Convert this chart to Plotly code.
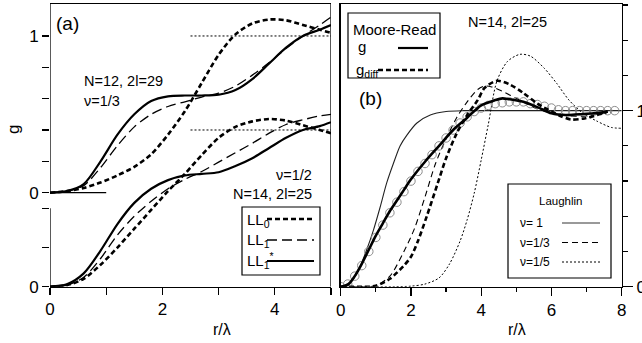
import plotly.graph_objects as go

# ---------------- data: panel (a) ----------------
# nu = 1/3, N=12, 2l=29 (upper set)
r_a = [0, 0.3, 0.6, 0.9, 1.2, 1.5, 1.8, 2.1, 2.4, 2.7, 3.0, 3.3, 3.6, 3.9, 4.2, 4.5, 4.8, 5.0]
g13_LL0 = [0, 0.01, 0.03, 0.065, 0.11, 0.165, 0.245, 0.37, 0.52, 0.70, 0.88, 1.01, 1.08, 1.105, 1.10, 1.07, 1.04, 1.02]
g13_LL1 = [0, 0.01, 0.045, 0.16, 0.30, 0.42, 0.50, 0.55, 0.58, 0.61, 0.635, 0.68, 0.75, 0.83, 0.92, 1.0, 1.07, 1.12]
g13_LL1s = [0, 0.01, 0.055, 0.20, 0.37, 0.50, 0.585, 0.615, 0.62, 0.62, 0.625, 0.655, 0.725, 0.825, 0.925, 1.0, 1.04, 1.07]
# nu = 1/2, N=14, 2l=25 (lower set, drawn shifted down by 0.6)
g12_LL0 = [0, 0.01, 0.05, 0.14, 0.25, 0.37, 0.49, 0.61, 0.72, 0.84, 0.95, 1.02, 1.055, 1.07, 1.06, 1.03, 1.0, 0.98]
g12_LL1 = [0, 0.01, 0.06, 0.18, 0.33, 0.45, 0.545, 0.625, 0.685, 0.735, 0.795, 0.855, 0.915, 0.98, 1.035, 1.065, 1.09, 1.10]
g12_LL1s = [0, 0.015, 0.085, 0.23, 0.40, 0.535, 0.625, 0.68, 0.71, 0.72, 0.73, 0.77, 0.82, 0.885, 0.95, 1.0, 1.025, 1.05]
offset_half = -0.6
ref_r = [2.5, 5.0]

# ---------------- data: panel (b) ----------------
r_mr = [0, 0.2, 0.4, 0.6, 0.8, 1.0, 1.2, 1.4, 1.6, 1.8, 2.0, 2.4, 2.8, 3.2, 3.6, 4.0, 4.4, 4.6, 4.8, 5.2, 5.6, 6.0, 6.4, 6.8, 7.2, 7.6]
g_mr = [0, 0.01, 0.06, 0.13, 0.21, 0.29, 0.36, 0.43, 0.49, 0.55, 0.61, 0.71, 0.80, 0.89, 0.96, 1.03, 1.06, 1.07, 1.065, 1.05, 1.02, 0.985, 0.975, 0.98, 0.985, 0.995]
r_diff = [0, 0.8, 1.0, 1.4, 1.8, 2.0, 2.2, 2.45, 2.75, 3.0, 3.3, 3.6, 3.9, 4.1, 4.45, 4.8, 5.2, 5.6, 6.0, 6.25, 6.55, 6.9, 7.3, 7.6]
g_diff = [0, 0.0, 0.005, 0.045, 0.12, 0.17, 0.26, 0.40, 0.58, 0.73, 0.87, 0.975, 1.06, 1.13, 1.17, 1.15, 1.10, 1.04, 0.995, 0.97, 0.95, 0.955, 0.975, 0.995]
r_nu1 = [0, 0.3, 0.5, 0.74, 0.93, 1.12, 1.31, 1.5, 1.69, 1.88, 2.17, 2.55, 3.0, 3.5, 4, 5, 6, 7, 8]
g_nu1 = [0, 0.03, 0.09, 0.21, 0.32, 0.45, 0.59, 0.70, 0.80, 0.86, 0.93, 0.975, 0.995, 1, 1, 1, 1, 1, 1]
r_nu3 = [0, 0.8, 1.0, 1.4, 1.8, 2.1, 2.4, 2.7, 3.0, 3.3, 3.6, 3.9, 4.1, 4.3, 4.6, 5.0, 5.6, 6.1, 6.5, 7.0, 7.5, 7.7]
g_nu3 = [0, 0.0, 0.005, 0.06, 0.20, 0.33, 0.51, 0.70, 0.84, 0.96, 1.05, 1.12, 1.14, 1.135, 1.11, 1.07, 1.01, 0.985, 0.97, 0.97, 0.985, 0.99]
r_nu5 = [0, 1.5, 2.0, 2.4, 2.8, 3.1, 3.4, 3.6, 3.8, 4.0, 4.2, 4.45, 4.75, 5.1, 5.4, 5.8, 6.15, 6.5, 6.9, 7.3, 7.7, 8.0]
g_nu5 = [0, 0, 0.003, 0.015, 0.05, 0.13, 0.26, 0.38, 0.53, 0.72, 0.92, 1.17, 1.28, 1.32, 1.31, 1.24, 1.155, 1.06, 0.985, 0.94, 0.905, 0.90]
r_circ = [0.0, 0.2, 0.4, 0.6, 0.8, 1.0, 1.2, 1.4, 1.6, 1.8, 2.0, 2.2, 2.4, 2.6, 2.8, 3.0, 3.2, 3.4, 3.6, 3.8,
          4.0, 4.2, 4.4, 4.6, 4.8, 5.0, 5.2, 5.4, 5.6, 5.8, 6.0, 6.2, 6.4, 6.6, 6.8, 7.0, 7.2, 7.4, 7.6, 7.8]
g_circ = [0, 0.015, 0.06, 0.12, 0.20, 0.28, 0.35, 0.42, 0.48, 0.54, 0.60, 0.655, 0.70, 0.75, 0.80, 0.845, 0.89, 0.93, 0.965, 0.995,
          1.015, 1.03, 1.04, 1.045, 1.05, 1.05, 1.05, 1.04, 1.035, 1.025, 1.015, 1.005, 1.0, 1.0, 1.0, 1.0, 1.0, 1.0, 1.0, 1.0]

# axis ticks
xa_major = [0, 2, 4]
xa_minor = [1, 3, 5]
ya_major = [-0.6, 0, 1.0]
ya_major_text = ["0", "0", "1"]
ya_minor = [-0.35, -0.1, 0.2, 0.4, 0.6, 0.8]
yb_major = [0, 1]
yb_minor = [0.2, 0.4, 0.6, 0.8, 1.2, 1.4, 1.6]

W, H = 642, 343
FONT = "Liberation Sans, Arial, sans-serif"


def PX(x):
    return x / W


def PY(y):
    return 1 - y / H


fig = go.Figure()

BLACK = "black"
SD = "5px,3px"      # short thick dash
LD = "10px,5px"     # long thin dash
TD = "6px,4px"      # thin dash
DT = "2px,2px"      # dotted


def add(x, y, xa, ya, width, dash="solid", color=BLACK):
    fig.add_trace(go.Scatter(x=x, y=y, mode="lines", xaxis=xa, yaxis=ya, showlegend=False,
                             line=dict(color=color, width=width, dash=dash, shape="spline", smoothing=0.8),
                             hoverinfo="skip"))


# panel (a) traces
add(ref_r, [1, 1], "x", "y", 1, DT)
add(ref_r, [1 + offset_half, 1 + offset_half], "x", "y", 1, DT)
add([0, 1], [0, 0], "x", "y", 1.3)
add(r_a, g13_LL0, "x", "y", 2.6, SD)
add(r_a, g13_LL1, "x", "y", 1.3, LD)
add(r_a, g13_LL1s, "x", "y", 2.2)
add(r_a, [v + offset_half for v in g12_LL0], "x", "y", 2.6, SD)
add(r_a, [v + offset_half for v in g12_LL1], "x", "y", 1.3, LD)
add(r_a, [v + offset_half for v in g12_LL1s], "x", "y", 2.2)

# panel (b) traces
add(r_nu1, g_nu1, "x2", "y2", 1.1, "solid", "#222")
add(r_nu3, g_nu3, "x2", "y2", 1.1, TD)
add(r_nu5, g_nu5, "x2", "y2", 1.0, DT)
fig.add_trace(go.Scatter(x=r_circ, y=g_circ, mode="markers", xaxis="x2", yaxis="y2", showlegend=False,
                         marker=dict(symbol="circle-open", size=8.5, color="#8c8c8c", line=dict(width=1)),
                         hoverinfo="skip"))
add(r_diff, g_diff, "x2", "y2", 2.6, SD)
add(r_mr, g_mr, "x2", "y2", 2.6)

tickfont = dict(family=FONT, size=17, color=BLACK)
ya_dom = [PY(286.7), PY(4)]
common = dict(showgrid=False, zeroline=False, automargin=False, tickcolor=BLACK, tickwidth=1.2,
              tickfont=tickfont, ticks="outside", linecolor=BLACK, linewidth=1.3)

fig.update_layout(
    width=W, height=H, margin=dict(l=0, r=0, t=0, b=0, autoexpand=False), autosize=False,
    paper_bgcolor="white", plot_bgcolor="white",
    xaxis=dict(domain=[PX(50), PX(331)], range=[0, 5], showline=True, mirror=True,
               tickmode="array", tickvals=xa_major, ticklen=7,
               minor=dict(tickmode="array", tickvals=xa_minor, ticks="outside", ticklen=7,
                          tickwidth=1.2, tickcolor=BLACK, showgrid=False), **common),
    yaxis=dict(domain=ya_dom, range=[-0.6, 1.204], showline=False,
               tickmode="array", tickvals=ya_major, ticktext=ya_major_text, ticklen=7,
               minor=dict(tickmode="array", tickvals=ya_minor, ticks="outside", ticklen=7,
                          tickwidth=1.2, tickcolor=BLACK, showgrid=False), **common),
    xaxis2=dict(domain=[PX(340.7), PX(621.7)], range=[0, 8], anchor="y2", showline=True, mirror=True,
                tickmode="linear", tick0=0, dtick=2, ticklen=8,
                minor=dict(tickmode="linear", tick0=0, dtick=1, ticks="outside", ticklen=4,
                           tickwidth=1.2, tickcolor=BLACK, showgrid=False), **common),
    yaxis2=dict(domain=ya_dom, range=[0, 1.606], side="right", anchor="x2", showline=True, mirror=True,
                tickmode="array", tickvals=yb_major, ticklen=10,
                minor=dict(tickmode="array", tickvals=yb_minor, ticks="outside",
                           ticklen=5, tickwidth=1.2, tickcolor=BLACK, showgrid=False), **common),
)

shapes = []
# panel (a) broken left spine + right spine
shapes.append(dict(type="line", xref="x", yref="y", x0=0, x1=0, y0=-0.6, y1=-0.1, line=dict(color=BLACK, width=1.3)))
shapes.append(dict(type="line", xref="x", yref="y", x0=0, x1=0, y0=0, y1=1.204, line=dict(color=BLACK, width=1.3)))
shapes.append(dict(type="line", xref="x", yref="y", x0=5, x1=5, y0=-0.6, y1=1.204, line=dict(color=BLACK, width=1.3)))


def box(x0, y0, x1, y1):
    shapes.append(dict(type="rect", xref="paper", yref="paper", x0=PX(x0), x1=PX(x1), y0=PY(y1), y1=PY(y0),
                       line=dict(color=BLACK, width=1.2), fillcolor="white", layer="above"))


def seg(x0, x1, y, width, dash="solid", color=BLACK):
    shapes.append(dict(type="line", xref="paper", yref="paper", x0=PX(x0), x1=PX(x1), y0=PY(y), y1=PY(y),
                       line=dict(color=color, width=width, dash=dash), layer="above"))


# legend (a)
box(242, 207, 320, 275)
seg(267, 314, 219, 2.6, SD)
seg(267, 314, 240, 1.3, LD)
seg(267, 314, 261, 2.2)
# Moore-Read legend
box(348, 13, 440, 78)
seg(398, 428, 48, 2.2)
seg(378, 428, 70, 2.6, SD)
# Laughlin legend
box(508, 184, 611, 278)
seg(562, 600, 223, 1.8, "solid", "#999999")
seg(562, 600, 242.5, 1.1, TD)
seg(562, 600, 262, 1.0, DT)
fig.update_layout(shapes=shapes)

ann = []


def txt(x, y, s, size=14, xanchor="left", angle=0):
    ann.append(dict(x=PX(x), y=PY(y), xref="paper", yref="paper", text=s, showarrow=False,
                    xanchor=xanchor, yanchor="middle", textangle=angle,
                    font=dict(family=FONT, size=size, color=BLACK)))


txt(54, 23, "(a)", 19)
txt(82, 81, "N=12, 2l=29", 14.5)
txt(82, 101, "ν=1/3", 14.5)
txt(314, 175, "ν=1/2", 14.5, "right")
txt(314, 194, "N=14, 2l=25", 14.5, "right")
txt(13, 130, "g", 17, "center", -90)
txt(222, 329, "r/λ", 16, "center")
txt(517, 329, "r/λ", 16, "center")
txt(357, 99, "(b)", 19)
txt(466, 22, "N=14, 2l=25", 14.5)
# legend texts
txt(245, 220, "LL<sub>0</sub>", 15)
txt(245, 241, "LL<sub>1</sub>", 15)
txt(245, 260, "LL<sub>1</sub><sup>*</sup>", 15)
txt(394, 30, "Moore-Read", 15, "center")
txt(356, 47, "g", 15)
txt(354, 70, "g<sub>diff</sub>", 15)
txt(560, 201, "Laughlin", 11.5, "center")
txt(518, 223, "ν= 1", 12)
txt(518, 242.5, "ν=1/3", 12)
txt(518, 262, "ν=1/5", 12)
fig.update_layout(annotations=ann)

fig.write_html("out.html", config={"displayModeBar": False, "staticPlot": True},
               post_script="document.body.style.margin='0';document.body.style.padding='0';")
